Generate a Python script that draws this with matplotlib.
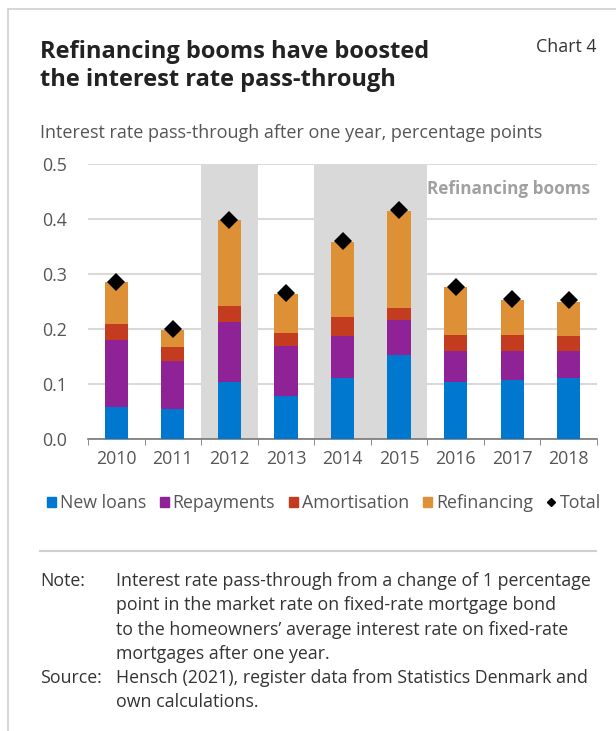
import numpy as np
import matplotlib.pyplot as plt
from matplotlib.lines import Line2D
from matplotlib.patches import Patch

plt.rcParams['font.family'] = ['Open Sans', 'DejaVu Sans']

# Data
years = ['2010', '2011', '2012', '2013', '2014', '2015', '2016', '2017', '2018']
new_loans = [0.059, 0.055, 0.104, 0.078, 0.110, 0.152, 0.104, 0.107, 0.110]
repayments = [0.121, 0.086, 0.108, 0.092, 0.077, 0.065, 0.056, 0.053, 0.050]
amortisation = [0.030, 0.026, 0.029, 0.022, 0.035, 0.022, 0.029, 0.029, 0.027]
refinancing = [0.076, 0.031, 0.157, 0.072, 0.136, 0.175, 0.087, 0.064, 0.063]
total = [0.286, 0.200, 0.399, 0.265, 0.360, 0.416, 0.277, 0.254, 0.252]
booms = ['2012', '2014', '2015']

series = [('New loans', new_loans, '#0078D0'),
          ('Repayments', repayments, '#8E2296'),
          ('Amortisation', amortisation, '#C33C20'),
          ('Refinancing', refinancing, '#DE9037')]

W, H = 616, 731
fs = 12.8
fig = plt.figure(figsize=(W / 100, H / 100), dpi=100)
ax = fig.add_axes([88 / W, 1 - 439 / H, (597 - 88) / W, (439 - 164) / H])

x = np.arange(len(years))

# shaded refinancing boom years
for y in booms:
    i = years.index(y)
    ax.axvspan(i - 0.5, i + 0.5, color='#D9D9D9', lw=0, zorder=0)

bottom = np.zeros(len(years))
for name, vals, col in series:
    ax.bar(x, vals, 0.41, bottom=bottom, color=col, label=name, zorder=3)
    bottom += np.array(vals)

ax.plot(x, total, 'D', color='black', markersize=8.8, markeredgewidth=0, zorder=4, label='Total')

ax.set_xlim(-0.5, len(years) - 0.5)
ax.set_ylim(0, 0.5)
ax.set_yticks([0, 0.1, 0.2, 0.3, 0.4, 0.5])
ax.set_yticklabels(['0.0', '0.1', '0.2', '0.3', '0.4', '0.5'])
ax.yaxis.grid(True, color='#D9D9D9', lw=1.5, zorder=1)
ax.set_axisbelow(True)
ax.set_xticks(x)
ax.set_xticklabels(years)
ax.set_xticks(np.arange(-0.5, len(years)), minor=True)
ax.tick_params(axis='x', which='major', length=0, pad=8, labelsize=fs, labelcolor='#555555')
ax.tick_params(axis='x', which='minor', length=4, color='#777777', direction='out')
ax.tick_params(axis='y', length=0, pad=15, labelsize=fs, labelcolor='#555555')
for s in ['top', 'right', 'left']:
    ax.spines[s].set_visible(False)
ax.spines['bottom'].set_color('#777777')
ax.spines['bottom'].set_linewidth(1.2)

ax.text(8.38, 0.455, 'Refinancing booms', ha='right', va='center',
        fontsize=12.3, fontweight='bold', color='#A0A0A0', zorder=5)

# legend
handles = [Patch(color=c, label=n) for n, _, c in series]
handles.append(Line2D([], [], marker='D', color='black', ls='none', markersize=4.5, label='Total'))
fig.legend(handles=handles, loc='center left', bbox_to_anchor=(47 / W, 1 - 503 / H),
           ncol=5, frameon=False, fontsize=fs, handlelength=0.5, handleheight=0.5,
           handletextpad=0.22, columnspacing=0.78, borderaxespad=0, borderpad=0,
           labelcolor='#555555')

# titles
fig.text(40 / W, 1 - 40 / H, 'Refinancing booms have boosted\nthe interest rate pass-through',
         fontsize=17, fontweight='bold', color='#222222', va='top', ha='left', linespacing=1.2)
fig.text(596 / W, 1 - 47 / H, 'Chart 4', fontsize=fs, color='#333333', ha='right', va='center')
fig.text(40 / W, 1 - 133 / H, 'Interest rate pass-through after one year, percentage points',
         fontsize=13, color='#555555', ha='left', va='center')

# card borders and separator
fig.add_artist(Line2D([8 / W, 8 / W], [0, 1 - 9 / H], color='#D0D0D0', lw=1.2))
fig.add_artist(Line2D([8 / W, 1], [1 - 9 / H, 1 - 9 / H], color='#D0D0D0', lw=1.2))
fig.add_artist(Line2D([40 / W, 596 / W], [1 - 551 / H, 1 - 551 / H], color='#D0D0D0', lw=1.5))

# notes
note_lines = ['Interest rate pass-through from a change of 1 percentage',
              'point in the market rate on fixed-rate mortgage bond',
              'to the homeowners\u2019 average interest rate on fixed-rate',
              'mortgages after one year.']
source_lines = ['Hensch (2021), register data from Statistics Denmark and',
                'own calculations.']
fig.text(40 / W, 1 - 581 / H, 'Note:', fontsize=fs, color='#333333', va='center')
for k, line in enumerate(note_lines):
    fig.text(116 / W, 1 - (581 + 24.3 * k) / H, line, fontsize=fs, color='#333333', va='center')
fig.text(40 / W, 1 - 678 / H, 'Source:', fontsize=fs, color='#333333', va='center')
for k, line in enumerate(source_lines):
    fig.text(116 / W, 1 - (678 + 24.3 * k) / H, line, fontsize=fs, color='#333333', va='center')

plt.savefig('out.png', dpi=100)
plt.close()
